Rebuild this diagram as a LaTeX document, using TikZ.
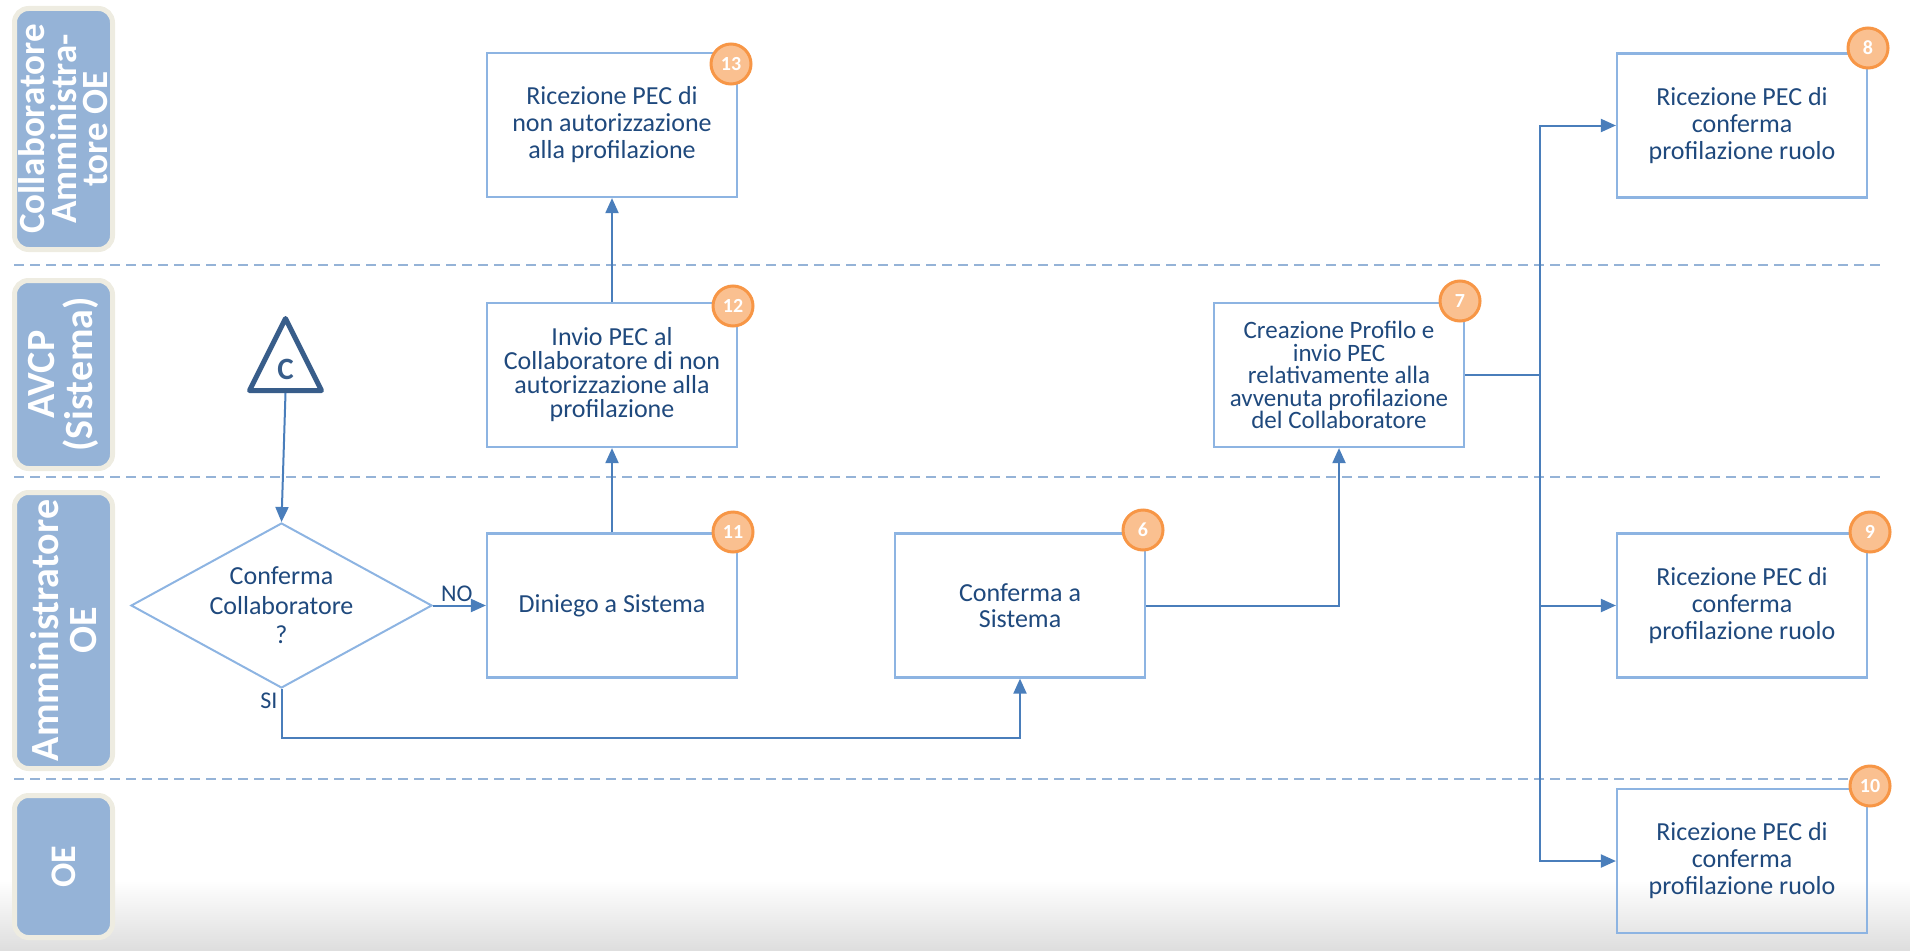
\documentclass[tikz,border=0pt]{standalone}
\usepackage{fontspec}
\setmainfont{Carlito}
\usetikzlibrary{arrows.meta,positioning,shapes.geometric}
\definecolor{lanefill}{HTML}{95B3D7}
\definecolor{laneedge}{HTML}{EEECE1}
\definecolor{boxedge}{HTML}{8DB4E2}
\definecolor{boxtext}{HTML}{1F497D}
\definecolor{flowline}{HTML}{4A7EBB}
\definecolor{badgefill}{HTML}{FAC090}
\definecolor{badgeedge}{HTML}{F79646}
\definecolor{trigedge}{HTML}{385D8A}
\definecolor{sepline}{HTML}{95B3D7}
\tikzset{
  lane/.style={draw=laneedge,fill=lanefill,line width=5pt,rounded corners=14pt,
               rotate=90,minimum height=98pt,align=center,text=white,inner sep=0pt,
               font=\bfseries\fontsize{40}{38}\selectfont},
  stepbox/.style={draw=boxedge,line width=2.2pt,minimum width=250pt,
                  minimum height=144pt,align=center,text=boxtext,inner sep=0pt,
                  font=\fontsize{26}{27}\selectfont},
  choice/.style={diamond,draw=boxedge,line width=2pt,minimum width=301pt,
                 minimum height=165pt,aspect=1.82,align=center,text=boxtext,
                 inner sep=0pt,font=\fontsize{26}{29.5}\selectfont},
  connector/.style={isosceles triangle,isosceles triangle stretches,
                    shape border rotate=90,draw=trigedge,line width=5pt,
                    line join=round,minimum width=72pt,minimum height=72pt,
                    inner sep=0pt,text=trigedge,
                    font=\bfseries\fontsize{31}{31}\selectfont},
  badge/.style={circle,fill=badgefill,draw=badgeedge,line width=3pt,
                minimum size=40pt,inner sep=0pt,text=white,
                font=\bfseries\fontsize{20}{20}\selectfont},
  lbl/.style={text=boxtext,inner sep=3pt,font=\fontsize{24}{24}\selectfont},
  flowarr/.style={-{Triangle[length=15pt,width=13pt]},line width=2pt,draw=flowline},
  flowpath/.style={line width=2pt,draw=flowline},
  lanesep/.style={draw=sepline,line width=2pt,dash pattern=on 10pt off 6pt}
}
\begin{document}
\begin{tikzpicture}[x=1pt,y=-1pt]
    \useasboundingbox (0,0) rectangle (1910,950);
    \shade[top color=white,bottom color=black!13] (0,880) rectangle (1910,950);

    \draw[lanesep] (14,265) -- (1886,265);
    \draw[lanesep] (14,477) -- (1886,477);
    \draw[lanesep] (14,779) -- (1886,779);

    \node[lane,minimum width=241pt,font=\bfseries\fontsize{37}{31.5}\selectfont] (collab)
      at (63.5,129) {Collaboratore\\Amministra-\\tore OE};
    \node[lane,minimum width=188pt] (avcp) at (63.5,374.5) {AVCP\\(Sistema)};
    \node[lane,minimum width=276pt] (ammin) at (63.5,630.5) {Amministratore\\OE};
    \node[lane,minimum width=142pt,font=\bfseries\fontsize{36}{36}\selectfont] (oe)
      at (63.5,866.5) {OE};

    \node[connector,anchor=apex] (trig) at (285.5,312) {C};
    \node[choice] (dia) at (281.5,605.5) {Conferma\\Collaboratore\\?};

    \node[stepbox] (b13) at (612,125) {Ricezione PEC di\\non autorizzazione\\alla profilazione};
    \node[stepbox,font=\fontsize{26}{24}\selectfont] (b12) at (612,375)
      {Invio PEC al\\Collaboratore di non\\autorizzazione alla\\profilazione};
    \node[stepbox] (b11) at (612,605.5) {Diniego a Sistema};
    \node[stepbox,font=\fontsize{26}{26}\selectfont] (b6) at (1020,605.5) {Conferma a\\Sistema};
    \node[stepbox,font=\fontsize{25}{22.5}\selectfont] (b7) at (1339,375)
      {Creazione Profilo e\\invio PEC\\relativamente alla\\avvenuta profilazione\\del Collaboratore};
    \node[stepbox] (b8) at (1742,125.5) {Ricezione PEC di\\conferma\\profilazione ruolo};
    \node[stepbox] (b9) at (1742,605.5) {Ricezione PEC di\\conferma\\profilazione ruolo};
    \node[stepbox] (b10) at (1742,861) {Ricezione PEC di\\conferma\\profilazione ruolo};
    \coordinate (split) at (1540,375);

    \draw[flowarr] (trig.lower side) -- (dia.north);
    \draw[flowarr] (dia.east) -- node[lbl,above,pos=0.45] (no) {NO} (b11.west);
    \draw[flowarr] (dia.south) -- node[lbl,left,pos=0.25] (si) {SI} ++(0,49) -| (b6.south);
    \draw[flowarr] (b11.north) -- (b12.south);
    \draw[flowarr] (b12.north) -- (b13.south);
    \draw[flowarr] (b6.east) -| (b7.south);
    \draw[flowpath] (b7.east) -- (split);
    \draw[flowarr] (split) |- (b8.west);
    \draw[flowarr] (split) |- (b9.west);
    \draw[flowarr] (split) |- (b10.west);

    \node[badge] (n13) at (731,64) {13};
    \node[badge] (n12) at (733,306) {12};
    \node[badge] (n11) at (733,532) {11};
    \node[badge] (n6) at (1143,530) {6};
    \node[badge] (n7) at (1460,301) {7};
    \node[badge] (n8) at (1868,48) {8};
    \node[badge] (n9) at (1870,532) {9};
    \node[badge] (n10) at (1870,786) {10};
\end{tikzpicture}
\end{document}
